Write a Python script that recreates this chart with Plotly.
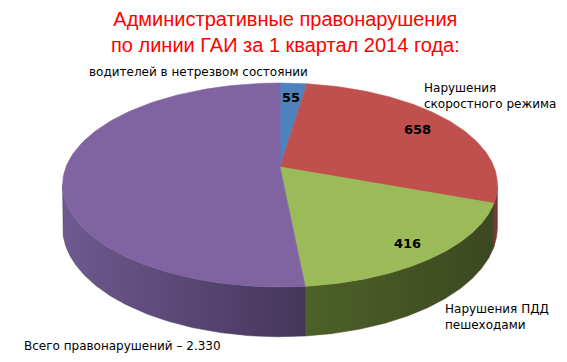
import math
import plotly.graph_objects as go

# ---- data ----
categories = ["водителей в нетрезвом состоянии", "Нарушения скоростного режима",
              "Нарушения ПДД пешеходами", "Прочие правонарушения"]
values = [55, 658, 416, 1201]
total_label = "Всего правонарушений – 2.330"
show_value = [True, True, True, False]
top_colors = ["#4f81bd", "#c0504d", "#9bbb59", "#8064a2"]
side_colors = [("#3a5f8c", "#2f4e74"), ("#8e3a38", "#7a302e"),
               ("#4d6128", "#3c4821"), ("#6e5a8f", "#45365a")]

# ---- 3D pie geometry (page pixel space) ----
CX, CY = 280.0, 167.0      # apex
RX, RY = 214.0, 98.8       # radii
C = 0.1765                 # perspective factor
H = 41.0                   # thickness

def proj(theta, r=1.0, drop=0.0):
    X = r * math.sin(theta)
    Z = r * math.cos(theta)
    den = 1 + C * Z
    return CX + RX * X / den, CY - RY * Z / den + drop / den

def arc(a0, a1, n=120, drop=0.0):
    pts = []
    for i in range(n + 1):
        t = a0 + (a1 - a0) * i / n
        pts.append(proj(t, 1.0, drop))
    return pts

total = sum(values)
angles = [0.0]
for v in values:
    angles.append(angles[-1] + v / total * 2 * math.pi)

vis0 = math.acos(-C)
vis1 = 2 * math.pi - vis0

fig = go.Figure()

# side walls
for i in range(len(values)):
    a0 = max(angles[i], vis0)
    a1 = min(angles[i + 1], vis1)
    if a1 <= a0:
        continue
    top = arc(a0, a1)
    bot = arc(a1, a0, drop=H)
    pts = top + bot + [top[0]]
    fig.add_trace(go.Scatter(
        x=[p[0] for p in pts], y=[p[1] for p in pts], mode="lines", fill="toself",
        line=dict(width=0.5, color=side_colors[i][1]),
        fillgradient=dict(type="horizontal",
                          colorscale=[[0, side_colors[i][0]], [1, side_colors[i][1]]]),
        hoverinfo="skip", showlegend=False))

# top slices
for i in range(len(values)):
    pts = [(CX, CY)] + arc(angles[i], angles[i + 1]) + [(CX, CY)]
    fig.add_trace(go.Scatter(
        x=[p[0] for p in pts], y=[p[1] for p in pts], mode="lines", fill="toself",
        fillcolor=top_colors[i], line=dict(width=0.6, color=top_colors[i]),
        hoverinfo="skip", showlegend=False, name=categories[i]))

# value labels
label_r = [0.80, 0.80, 0.86, 0.8]
for i in range(len(values)):
    if not show_value[i]:
        continue
    mid = (angles[i] + angles[i + 1]) / 2
    x, y = proj(mid, label_r[i])
    fig.add_annotation(x=x, y=y, text="<b>%d</b>" % values[i], showarrow=False,
                       font=dict(size=13, color="black", family="DejaVu Sans"))

font_lbl = dict(size=12, color="black", family="DejaVu Sans")
fig.add_annotation(x=87, y=72, text=categories[0], showarrow=False, xanchor="left",
                   font=font_lbl)
fig.add_annotation(x=422, y=96, text="Нарушения<br>скоростного режима", showarrow=False,
                   xanchor="left", align="left", font=font_lbl)
fig.add_annotation(x=443, y=317, text="Нарушения ПДД<br>пешеходами", showarrow=False,
                   xanchor="left", align="left", font=font_lbl)
fig.add_annotation(x=22, y=346, text=total_label, showarrow=False, xanchor="left",
                   font=font_lbl)

fig.add_annotation(x=285, y=32, text="Административные правонарушения<br>по линии ГАИ за 1 квартал 2014 года:",
                   showarrow=False, font=dict(size=20, color="#ff0000", family="Liberation Sans"))

# page body has an 8px margin: map page pixels directly
OFF = 8
fig.update_xaxes(range=[OFF, 567], visible=False, fixedrange=True)
fig.update_yaxes(range=[362, OFF], visible=False, fixedrange=True)
fig.update_layout(width=567 - OFF, height=362 - OFF, autosize=False,
                  margin=dict(l=0, r=0, t=0, b=0),
                  paper_bgcolor="white", plot_bgcolor="white")
fig.write_html("out.html")
